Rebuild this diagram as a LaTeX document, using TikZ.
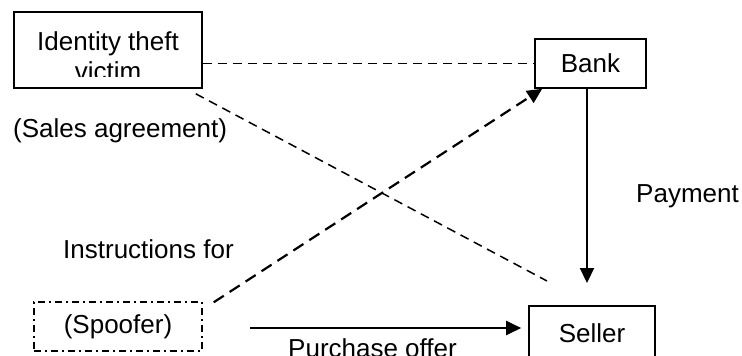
\documentclass[tikz,border=0pt]{standalone}
\usepackage{fontspec}
\setmainfont{Liberation Sans}
\usetikzlibrary{arrows.meta}

\begin{document}
\begin{tikzpicture}[x=1pt,y=-1pt,
    font=\fontsize{26}{30}\selectfont,
    box/.style={draw,line width=1.6pt,inner sep=0pt},
    lbl/.style={inner sep=0pt,anchor=base west},
    thin dash/.style={line width=1.5pt,dash pattern=on 9pt off 6pt},
    tip/.style={line width=2.2pt,-{Triangle[length=15pt,width=14pt]}}]
    \useasboundingbox (0,0) rectangle (742,356);
    
    \node[box,minimum width=188pt,minimum height=76pt] (victim) at (108,50) {};
    \begin{scope}
    \clip (16,14) rectangle (200,76);
    \node[align=center,inner sep=0pt] (victimtext) at (108,56) {Identity theft\\victim};
    \end{scope}
    \node[box,minimum width=111pt,minimum height=49pt] (bank) at (590.5,63.5) {Bank};
    \node[box,minimum width=126pt,minimum height=54pt] (seller) at (592,333) {Seller};
    \node[draw,line width=1.4pt,dash pattern=on 7pt off 4pt on 2pt off 4pt,
          minimum width=168pt,minimum height=49pt] (spoofer) at (118,326.5) {(Spoofer)};
    
    \coordinate (salesend) at (547,281);
    \coordinate (payend) at (587,283);
    \coordinate (offerstart) at (250,328);
    
    \draw[thin dash] (victim.east |- bank.west) -- (bank.west);
    \draw[thin dash] ([shift={(-7,5)}]victim.south east) -- (salesend);
    \draw[tip,dash pattern=on 12pt off 7pt] ([shift={(11,1)}]spoofer.north east) -- ([shift={(8,0)}]bank.south west);
    \draw[tip] (bank.south -| payend) -- (payend);
    \draw[tip] (offerstart) -- ([shift={(-7,-5)}]seller.west);
    
    \node[lbl] (sales) at (13,137) {(Sales agreement)};
    \node[lbl] (instr) at (63,258) {Instructions for};
    \node[lbl] (payment) at (636,202) {Payment};
    \node[lbl] (offer) at (288,357) {Purchase offer};
\end{tikzpicture}
\end{document}
